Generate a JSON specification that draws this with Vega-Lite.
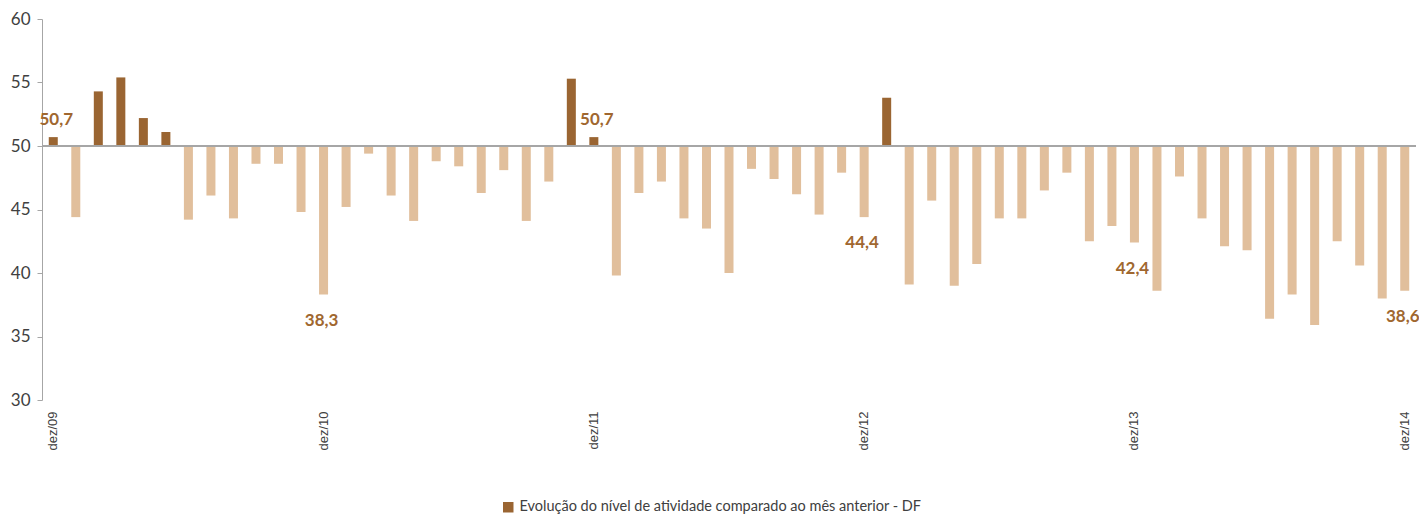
{
  "$schema": "https://vega.github.io/schema/vega-lite/v6.json",
  "width": 1374,
  "height": 381,
  "autosize": {"type": "none"},
  "padding": {"left": 42, "top": 19, "right": 3, "bottom": 117},
  "background": "white",
  "config": {"view": {"stroke": null}},
  "data": {"values": [
    {"mes": "dez/09", "valor": 50.7},
    {"mes": "jan/10", "valor": 44.4},
    {"mes": "fev/10", "valor": 54.3},
    {"mes": "mar/10", "valor": 55.4},
    {"mes": "abr/10", "valor": 52.2},
    {"mes": "mai/10", "valor": 51.1},
    {"mes": "jun/10", "valor": 44.2},
    {"mes": "jul/10", "valor": 46.1},
    {"mes": "ago/10", "valor": 44.3},
    {"mes": "set/10", "valor": 48.6},
    {"mes": "out/10", "valor": 48.6},
    {"mes": "nov/10", "valor": 44.8},
    {"mes": "dez/10", "valor": 38.3},
    {"mes": "jan/11", "valor": 45.2},
    {"mes": "fev/11", "valor": 49.4},
    {"mes": "mar/11", "valor": 46.1},
    {"mes": "abr/11", "valor": 44.1},
    {"mes": "mai/11", "valor": 48.8},
    {"mes": "jun/11", "valor": 48.4},
    {"mes": "jul/11", "valor": 46.3},
    {"mes": "ago/11", "valor": 48.1},
    {"mes": "set/11", "valor": 44.1},
    {"mes": "out/11", "valor": 47.2},
    {"mes": "nov/11", "valor": 55.3},
    {"mes": "dez/11", "valor": 50.7},
    {"mes": "jan/12", "valor": 39.8},
    {"mes": "fev/12", "valor": 46.3},
    {"mes": "mar/12", "valor": 47.2},
    {"mes": "abr/12", "valor": 44.3},
    {"mes": "mai/12", "valor": 43.5},
    {"mes": "jun/12", "valor": 40.0},
    {"mes": "jul/12", "valor": 48.2},
    {"mes": "ago/12", "valor": 47.4},
    {"mes": "set/12", "valor": 46.2},
    {"mes": "out/12", "valor": 44.6},
    {"mes": "nov/12", "valor": 47.9},
    {"mes": "dez/12", "valor": 44.4},
    {"mes": "jan/13", "valor": 53.8},
    {"mes": "fev/13", "valor": 39.1},
    {"mes": "mar/13", "valor": 45.7},
    {"mes": "abr/13", "valor": 39.0},
    {"mes": "mai/13", "valor": 40.7},
    {"mes": "jun/13", "valor": 44.3},
    {"mes": "jul/13", "valor": 44.3},
    {"mes": "ago/13", "valor": 46.5},
    {"mes": "set/13", "valor": 47.9},
    {"mes": "out/13", "valor": 42.5},
    {"mes": "nov/13", "valor": 43.7},
    {"mes": "dez/13", "valor": 42.4},
    {"mes": "jan/14", "valor": 38.6},
    {"mes": "fev/14", "valor": 47.6},
    {"mes": "mar/14", "valor": 44.3},
    {"mes": "abr/14", "valor": 42.1},
    {"mes": "mai/14", "valor": 41.8},
    {"mes": "jun/14", "valor": 36.4},
    {"mes": "jul/14", "valor": 38.3},
    {"mes": "ago/14", "valor": 35.9},
    {"mes": "set/14", "valor": 42.5},
    {"mes": "out/14", "valor": 40.6},
    {"mes": "nov/14", "valor": 38.0},
    {"mes": "dez/14", "valor": 38.6}
  ]},
  "encoding": {
    "x": {
      "field": "mes", "type": "nominal", "sort": null,
      "scale": {"paddingInner": 0, "paddingOuter": 0},
      "axis": {
        "title": null, "domain": false, "ticks": false, "grid": false,
        "labelAngle": -90, "labelPadding": 11,
        "labelExpr": "indexof(datum.value, 'dez') == 0 ? datum.value : ''",
        "labelFont": "Liberation Sans", "labelFontSize": 13, "labelColor": "#404040"
      }
    }
  },
  "layer": [
    {
      "mark": {"type": "bar", "width": {"band": 0.4}},
      "encoding": {
        "y": {
          "field": "valor", "type": "quantitative",
          "scale": {"domain": [30, 60], "nice": false, "zero": false},
          "axis": {
            "title": null, "values": [30, 35, 40, 45, 50, 55, 60], "grid": false,
            "domainColor": "#A6A6A6", "tickColor": "#A6A6A6", "tickSize": 5,
            "labelPadding": 7, "labelFont": "Lato", "labelFontSize": 17, "labelColor": "#404040"
          }
        },
        "y2": {"datum": 50},
        "color": {
          "condition": {"test": "datum.valor < 50", "value": "#E1BF9C"},
          "datum": "Evolução do nível de atividade comparado ao mês anterior - DF",
          "type": "nominal",
          "scale": {"range": ["#9A6532"]},
          "legend": {
            "title": null, "orient": "none", "legendX": 459, "legendY": 481,
            "symbolType": "square", "symbolSize": 110, "symbolStrokeWidth": 0, "symbolOffset": 0,
            "labelFont": "Lato", "labelFontSize": 14.5, "labelColor": "#404040",
            "labelLimit": 0, "labelOffset": 4
          }
        }
      }
    },
    {
      "mark": {"type": "rule", "color": "#A6A6A6", "strokeWidth": 1.5},
      "encoding": {"y": {"datum": 50, "type": "quantitative"}, "x": {"value": 0}, "x2": {"value": 1374}}
    },
    {
      "transform": [
        {"filter": "indexof(datum.mes, 'dez') == 0 && datum.valor >= 50"},
        {"calculate": "replace(format(datum.valor, '.1f'), '.', ',')", "as": "rotulo"}
      ],
      "mark": {"type": "text", "baseline": "alphabetic", "dy": -12, "dx": 3, "font": "Lato", "fontWeight": "bold", "fontSize": 17, "color": "#A0672F"},
      "encoding": {"y": {"field": "valor", "type": "quantitative"}, "text": {"field": "rotulo"}}
    },
    {
      "transform": [
        {"filter": "indexof(datum.mes, 'dez') == 0 && datum.valor < 50"},
        {"calculate": "replace(format(datum.valor, '.1f'), '.', ',')", "as": "rotulo"}
      ],
      "mark": {"type": "text", "baseline": "alphabetic", "dy": 31, "dx": -2, "font": "Lato", "fontWeight": "bold", "fontSize": 17, "color": "#A0672F"},
      "encoding": {"y": {"field": "valor", "type": "quantitative"}, "text": {"field": "rotulo"}}
    }
  ]
}
